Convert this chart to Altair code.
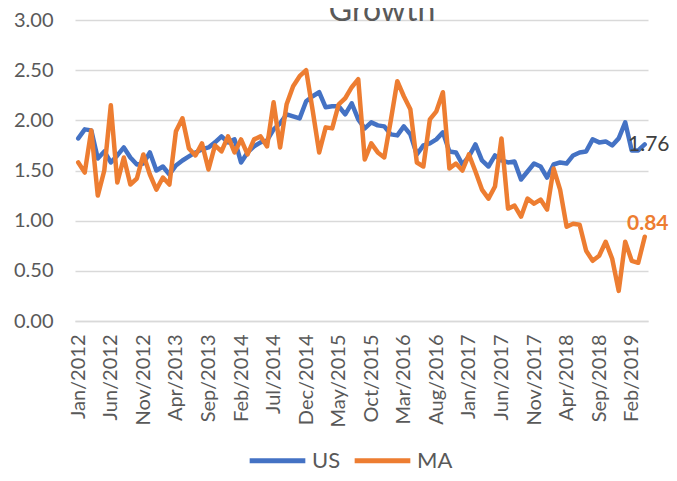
import altair as alt
import pandas as pd

MONTHS = ["Jan", "Feb", "Mar", "Apr", "May", "Jun", "Jul", "Aug", "Sep", "Oct", "Nov", "Dec"]
START_YEAR = 2012

us = [1.82, 1.91, 1.90, 1.62, 1.69, 1.58, 1.65, 1.73, 1.63, 1.56,
      1.57, 1.68, 1.50, 1.54, 1.46, 1.55, 1.60, 1.64, 1.68, 1.71,
      1.73, 1.78, 1.84, 1.78, 1.81, 1.58, 1.68, 1.74, 1.78, 1.80,
      1.91, 1.97, 2.06, 2.04, 2.02, 2.19, 2.24, 2.28, 2.13, 2.14,
      2.14, 2.06, 2.17, 2.01, 1.92, 1.98, 1.95, 1.94, 1.86, 1.85,
      1.94, 1.86, 1.66, 1.75, 1.77, 1.81, 1.88, 1.69, 1.68, 1.56,
      1.64, 1.76, 1.60, 1.54, 1.65, 1.60, 1.58, 1.59, 1.41, 1.49,
      1.57, 1.54, 1.43, 1.56, 1.58, 1.57, 1.65, 1.68, 1.69, 1.81,
      1.78, 1.79, 1.75, 1.82, 1.98, 1.70, 1.70, 1.76]

ma = [1.58, 1.48, 1.90, 1.25, 1.50, 2.15, 1.38, 1.63, 1.36, 1.42,
      1.66, 1.46, 1.31, 1.43, 1.36, 1.89, 2.02, 1.72, 1.65, 1.77,
      1.51, 1.75, 1.69, 1.84, 1.68, 1.81, 1.66, 1.81, 1.84, 1.74,
      2.18, 1.73, 2.16, 2.34, 2.44, 2.50, 2.10, 1.68, 1.93, 1.92,
      2.16, 2.22, 2.33, 2.41, 1.61, 1.77, 1.68, 1.63, 2.00, 2.39,
      2.24, 2.11, 1.58, 1.54, 2.01, 2.09, 2.28, 1.52, 1.57, 1.50,
      1.66, 1.49, 1.31, 1.22, 1.34, 1.82, 1.12, 1.15, 1.04, 1.22,
      1.17, 1.21, 1.11, 1.52, 1.31, 0.94, 0.97, 0.96, 0.70, 0.60,
      0.65, 0.79, 0.62, 0.30, 0.79, 0.60, 0.58, 0.84]

series_names = ["US", "MA"]
series_colors = ["#4472C4", "#ED7D31"]

labels = [f"{MONTHS[i % 12]}/{START_YEAR + i // 12}" for i in range(len(us))]
tick_labels = labels[::5]
y_ticks = [0, 0.5, 1.0, 1.5, 2.0, 2.5, 3.0]

n = len(us)
df = pd.DataFrame({
    "month": labels * 2,
    "idx": list(range(n)) * 2,
    "series": ["US"] * n + ["MA"] * n,
    "value": us + ma,
})

FONT = "Lato"
GRAY = "#595959"

x_enc = alt.X(
    "month:O",
    sort=labels,
    scale=alt.Scale(padding=0.5),
    axis=alt.Axis(
        values=tick_labels, labelAngle=-90, title=None, ticks=False,
        domain=True, domainColor="#D9D9D9", domainWidth=1.5, grid=False,
        labelFont=FONT, labelFontSize=20, labelColor=GRAY, labelPadding=13,
    ),
)
y_enc = alt.Y(
    "value:Q",
    scale=alt.Scale(domain=[0, 3], nice=False, zero=True),
    axis=alt.Axis(
        values=y_ticks, format=".2f", title=None, ticks=False, domain=False,
        grid=True, gridColor="#D9D9D9", gridWidth=1.5,
        labelFont=FONT, labelFontSize=20, labelColor=GRAY, labelPadding=22,
    ),
)

lines = alt.Chart(df).mark_line(
    strokeWidth=4.5, strokeJoin="round", strokeCap="round"
).encode(
    x=x_enc,
    y=y_enc,
    color=alt.Color(
        "series:N",
        sort=series_names,
        scale=alt.Scale(domain=series_names, range=series_colors),
        legend=alt.Legend(
            orient="none", legendX=172, legendY=410, direction="horizontal",
            title=None, symbolType="stroke", symbolSize=3100,
            symbolStrokeWidth=5, labelFont=FONT, labelFontSize=22,
            labelColor=GRAY, columnPadding=3, labelOffset=4, padding=0,
        ),
    ),
    detail="series:N",
)

last = df[df["idx"] == n - 1]

us_label = alt.Chart(last[last["series"] == "US"]).mark_text(
    font=FONT, fontSize=21, color="#404040", align="center",
    baseline="middle", dx=4, dy=1,
).encode(
    x=alt.X("month:O", sort=labels),
    y=alt.Y("value:Q"),
    text=alt.Text("value:Q", format=".2f"),
)

ma_label = alt.Chart(last[last["series"] == "MA"]).mark_text(
    font=FONT, fontSize=21, fontWeight="bold", color="#ED7D31",
    align="center", baseline="middle", dx=3, dy=-13,
).encode(
    x=alt.X("month:O", sort=labels),
    y=alt.Y("value:Q"),
    text=alt.Text("value:Q", format=".2f"),
)

title = alt.Chart(pd.DataFrame({"t": ["Growth"]})).mark_text(
    font=FONT, fontSize=32, color=GRAY, align="center", baseline="alphabetic",
).encode(
    text="t:N",
    x=alt.value(307),
    y=alt.value(1),
)

chart = alt.layer(lines, us_label, ma_label, title).properties(
    width=573,
    height=301,
    autosize=alt.AutoSizeParams(type="none"),
    padding={"left": 67, "top": 12, "right": 21, "bottom": 152},
).configure_view(stroke=None)

chart.save("out.html", embed_options={"renderer": "svg", "actions": False})
